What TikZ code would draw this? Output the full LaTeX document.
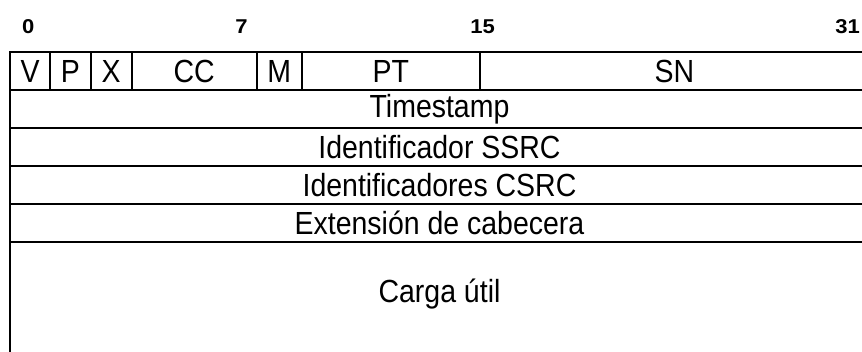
\documentclass[tikz,border=0pt]{standalone}
\usepackage{fontspec}
\setmainfont{Liberation Sans}[FakeStretch=0.89]
\newfontfamily\bitfont{Liberation Sans}[FakeStretch=1.1]
\usetikzlibrary{positioning}

\begin{document}
\begin{tikzpicture}[
  x=1pt, y=1pt,
  txt/.style={font=\fontsize{32}{34}\selectfont},
  field/.style={txt, draw, line width=1.8pt, minimum height=38pt, inner sep=0pt, outer sep=0pt},
  word/.style={field, minimum width=859pt},
  bitnum/.style={font=\bitfont\bfseries\fontsize{20}{22}\selectfont, inner sep=0pt}
]
  \useasboundingbox (0,0) rectangle (862,-351);
  \clip (0,0) rectangle (862,-351);
  % bit positions
  \node[bitnum] (b0) at (28.3,-27) {0};
  \node[bitnum] (b7) at (241.5,-27) {7};
  \node[bitnum] (b15) at (482.5,-27) {15};
  \node[bitnum] (b31) at (847.5,-27) {31};
  % first word
  \node[field, minimum width=40pt, anchor=north west] (v) at (10,-52) {V};
  \node[field, minimum width=40.7pt, right=0pt of v] (p) {P};
  \node[field, minimum width=41pt, right=0pt of p] (x) {X};
  \node[field, minimum width=125pt, right=0pt of x] (cc) {CC};
  \node[field, minimum width=45pt, right=0pt of cc] (m) {M};
  \node[field, minimum width=178.3pt, right=0pt of m] (pt) {PT};
  \node[field, minimum width=389pt, right=0pt of pt] (sn) {SN};
  % remaining words
  \node[word, below=0pt of v.south west, anchor=north west] (ts) {Timestamp};
  \node[word, below=0pt of ts] (ssrc) {Identificador SSRC};
  \node[word, below=0pt of ssrc] (csrc) {Identificadores CSRC};
  \node[word, below=0pt of csrc] (ext) {Extensión de cabecera};
  \node[word, minimum height=120pt, below=0pt of ext] (carga) {};
  \node[txt, inner sep=0pt] (cargatxt) at ([yshift=8pt]carga.center) {Carga útil};
\end{tikzpicture}
\end{document}
